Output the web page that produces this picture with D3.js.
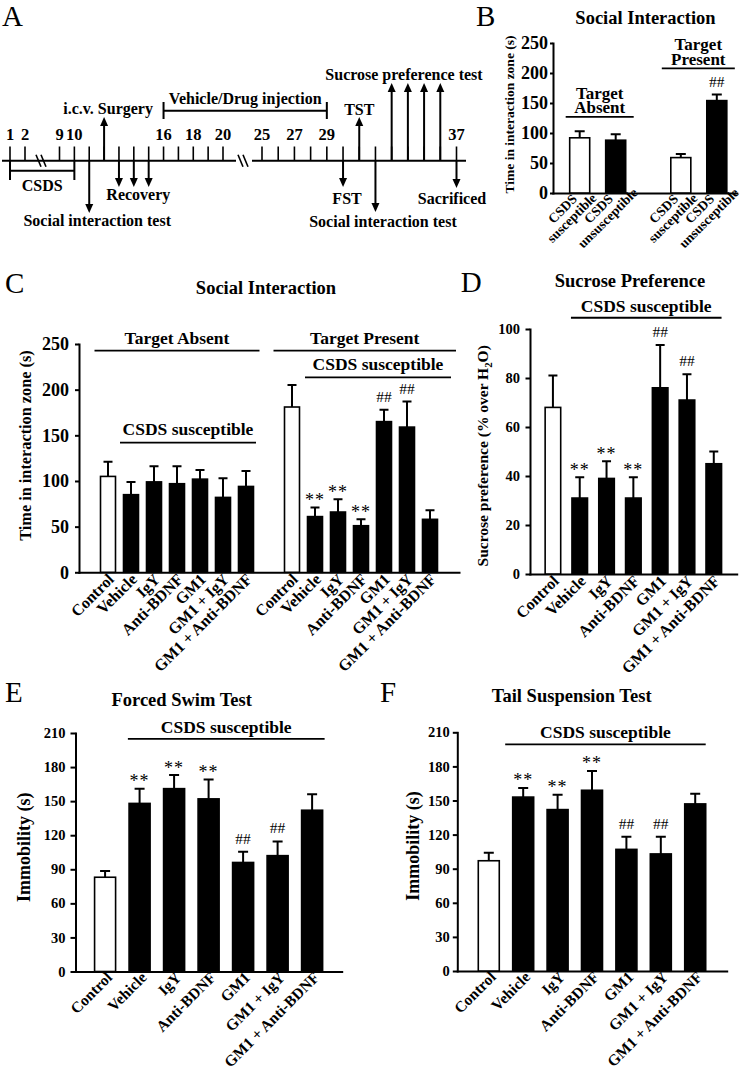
<!DOCTYPE html>
<html><head><meta charset="utf-8">
<script src="https://cdn.jsdelivr.net/npm/d3@7"></script>
<style>body{margin:0;background:#fff}svg{display:block}</style>
</head><body>
<svg id="fig" width="750" height="1069"></svg>
<script>
// ================= DATA =================
// Panel A: experimental timeline
const timelineDays = [1,2,9,10,11,12,13,14,15,16,17,18,19,20,25,26,27,28,29,30,31,32,33,34,35,36,37];
const timelineDayLabels = [1,2,9,10,16,18,20,25,27,29,37];
const upEvents = [
  {days:[12], label:"i.c.v. Surgery"},
  {days:[31], label:"TST"},
  {days:[33,34,35,36], label:"Sucrose preference test"}
];
const downEvents = [
  {days:[11], label:"Social interaction test"},
  {days:[13,14,15], label:"Recovery"},
  {days:[30], label:"FST"},
  {days:[32], label:"Social interaction test"},
  {days:[37], label:"Sacrificed"}
];
const injectionPeriod = {from:16, to:29, label:"Vehicle/Drug injection"};
const csdsPeriod = {from:1, to:10, label:"CSDS"};

// Panel B
const bGroups = ["Target Absent", "Target Present"];
const bStrains = ["CSDS susceptible", "CSDS unsusceptible"];
const bMeans = [[92, 88], [59, 154]];
const bErrors = [[11, 10], [6, 10]];
const bMarks = [["", ""], ["", "##"]];
const bTicks = [0, 50, 100, 150, 200, 250];

// Treatments (C-F)
const treatments = ["Control", "Vehicle", "IgY", "Anti-BDNF", "GM1", "GM1 + IgY", "GM1 + Anti-BDNF"];

// Panel C
const cAbsentMeans = [105, 85, 99, 97, 102, 82, 94];
const cAbsentErrors = [16, 14, 17, 19, 10, 21, 17];
const cPresentMeans = [181, 61, 66, 51, 165, 159, 58];
const cPresentErrors = [24, 10, 14, 7, 13, 28, 10];
const cPresentMarks = ["", "**", "**", "**", "##", "##", ""];
const cTicks = [0, 50, 100, 150, 200, 250];

// Panel D
const dMeans = [68, 31, 39, 31, 76, 71, 45];
const dErrors = [13, 8.5, 7, 8.5, 17.5, 10.5, 5];
const dMarks = ["", "**", "**", "**", "##", "##", ""];
const dTicks = [0, 20, 40, 60, 80, 100];

// Panel E
const eMeans = [83, 148, 161, 152, 96, 102, 142];
const eErrors = [5.5, 13, 12, 17, 9.5, 12.5, 14];
const eMarks = ["", "**", "**", "**", "##", "##", ""];
const eTicks = [0, 30, 60, 90, 120, 150, 180, 210];

// Panel F
const fMeans = [97, 153, 142, 159, 107, 103, 147];
const fErrors = [7, 8, 13, 17, 11, 15, 9];
const fMarks = ["", "**", "**", "**", "##", "##", ""];
const fTicks = [0, 30, 60, 90, 120, 150, 180, 210];

// ================= DRAWING =================
const serif = '"Liberation Serif","Times New Roman",Times,serif';
const svg = d3.select("#fig");

function addText(g, x, y, str, size, weight, anchor) {
  return g.append("text").attr("x", x).attr("y", y)
    .attr("font-family", serif).attr("font-size", size)
    .attr("font-weight", weight || "bold")
    .attr("text-anchor", anchor || "middle").attr("fill", "#000").text(str);
}

// ---------- Panel A ----------
(function () {
  const g = svg.append("g");
  const L = {lineY:160.7, tickTop:146.5, dayLabelY:140,
    scaleDays:[1,2,9,20,25,37], scaleX:[10,25,59.5,223,262,456.5],
    segments:[[2,236],[252,466]], breaks:[39,44,241,246]};
  const tx = d3.scaleLinear().domain(L.scaleDays).range(L.scaleX);
  const st = (s) => s.attr("stroke", "#000").attr("stroke-width", 2).attr("fill", "none");

  addText(g, 2, 25.5, "A", 29, "normal", "start");

  L.segments.forEach(s => st(g.append("line").attr("x1", s[0]).attr("x2", s[1]).attr("y1", L.lineY).attr("y2", L.lineY)));
  L.breaks.forEach(bx => {
    g.append("line").attr("x1", bx - 3).attr("x2", bx + 2).attr("y1", L.lineY - 6).attr("y2", L.lineY + 6).attr("stroke", "#000").attr("stroke-width", 1.6);
  });
  g.selectAll("line.tk").data(timelineDays).join("line")
    .attr("x1", d => tx(d)).attr("x2", d => tx(d)).attr("y1", L.tickTop).attr("y2", L.lineY)
    .attr("stroke", "#000").attr("stroke-width", 1.6);
  g.selectAll("text.day").data(timelineDayLabels).join("text")
    .attr("x", d => tx(d)).attr("y", L.dayLabelY).attr("text-anchor", "middle")
    .attr("font-family", serif).attr("font-size", 16.5).attr("font-weight", "bold").text(d => d);

  function arrow(x, y1, tip) {
    const dir = Math.sign(tip - y1), hl = 9, hw = 4;
    g.append("line").attr("x1", x).attr("x2", x).attr("y1", y1).attr("y2", tip - dir * (hl - 1))
      .attr("stroke", "#000").attr("stroke-width", 2);
    g.append("path").attr("d", `M${x},${tip}L${x - hw},${tip - dir * hl}L${x + hw},${tip - dir * hl}Z`).attr("fill", "#000");
  }
  const upLayout = [{tip:117, dx:4, ly:114}, {tip:117, dx:0, ly:114.5}, {tip:83, dx:-12, ly:80}];
  const downLayout = [{tip:213, dx:8, ly:225.5}, {tip:187, dx:4.5, ly:200}, {tip:187, dx:4, ly:204}, {tip:212, dx:7.5, ly:227}, {tip:188, dx:-4.5, ly:204}];
  upEvents.forEach((e, i) => {
    e.days.forEach(d => arrow(tx(d), L.lineY, upLayout[i].tip));
    addText(g, d3.mean(e.days, tx) + upLayout[i].dx, upLayout[i].ly, e.label, 16);
  });
  downEvents.forEach((e, i) => {
    e.days.forEach(d => arrow(tx(d), L.lineY, downLayout[i].tip));
    addText(g, d3.mean(e.days, tx) + downLayout[i].dx, downLayout[i].ly, e.label, 16);
  });
  const ix0 = tx(injectionPeriod.from), ix1 = tx(injectionPeriod.to);
  st(g.append("path").attr("d", `M${ix0},110.7H${ix1}M${ix0},102V119M${ix1},102V119`));
  addText(g, (ix0 + ix1) / 2, 104, injectionPeriod.label, 16);
  const cx0 = tx(csdsPeriod.from), cx1 = tx(csdsPeriod.to);
  st(g.append("path").attr("d", `M${cx0},170.7H${cx1}M${cx0},${L.lineY}V180M${cx1},${L.lineY}V180`));
  addText(g, (cx0 + cx1) / 2, 190.6, csdsPeriod.label, 16);
})();

// ---------- generic bar panel ----------
function drawBarPanel(p) {
  const g = svg.append("g");
  const y = d3.scaleLinear().domain([0, p.yMax]).range(p.yRange);
  const bw = p.bw;
  const cxOf = d => p.xLeft(d.key) + bw / 2;

  addText(g, p.letter.x, p.letter.y, p.letter.t, 29, "normal", "start");
  addText(g, p.title.x, p.title.y, p.title.t, 18.5);

  const ya = g.append("g").attr("transform", `translate(${p.axisX[0]},0)`)
    .call(d3.axisLeft(y).tickValues(p.ticks).tickSize(p.tickSize).tickSizeOuter(0).tickPadding(p.tickPad));
  ya.select(".domain").attr("stroke-width", 2).attr("stroke-linecap", "square");
  ya.selectAll(".tick line").attr("stroke-width", 2);
  ya.selectAll(".tick text").attr("font-family", serif).attr("font-size", p.tickFont).attr("font-weight", "bold");
  const xa = g.append("g").attr("transform", `translate(0,${y(0)})`)
    .call(d3.axisBottom(d3.scaleLinear().range(p.axisX)).tickValues([]).tickSizeOuter(0));
  xa.select(".domain").attr("stroke-width", 2).attr("stroke-linecap", "square");

  g.selectAll("rect.bar").data(p.items).join("rect")
    .attr("x", d => p.xLeft(d.key)).attr("y", d => y(d.mean))
    .attr("width", bw).attr("height", d => y(0) - y(d.mean))
    .attr("fill", d => d.fill).attr("stroke", "#000").attr("stroke-width", 1.6);
  g.selectAll("path.err").data(p.items).join("path")
    .attr("d", d => { const c = cxOf(d), t = y(d.mean + d.err); return `M${c},${y(d.mean)}V${t}M${c - p.cap},${t}H${c + p.cap}`; })
    .attr("stroke", "#000").attr("stroke-width", 2).attr("fill", "none");
  g.selectAll("text.mark").data(p.items.filter(d => d.mark)).join("text")
    .attr("x", d => cxOf(d)).attr("y", d => y(d.mean + d.err) - (d.mark === "**" ? 1.5 : 8))
    .attr("text-anchor", "middle").attr("font-family", serif)
    .attr("font-size", d => d.mark === "**" ? 18 : 15.5)
    .attr("letter-spacing", d => d.mark === "**" ? 1 : 0)
    .text(d => d.mark);

  const xl = g.selectAll("text.xl").data(p.items).join("text")
    .attr("transform", d => `translate(${cxOf(d) + p.labDx},${y(0) + p.labDy}) rotate(-45)`)
    .attr("font-family", serif).attr("font-size", p.labFont).attr("font-weight", "bold");
  if (p.twoLine) {
    xl.attr("text-anchor", "middle");
    xl.each(function (d) {
      const parts = d.label.split(" ");
      const t = d3.select(this);
      t.append("tspan").attr("x", 0).attr("y", 0).text(parts[0]);
      t.append("tspan").attr("x", 0).attr("y", p.lineH).text(parts.slice(1).join(" "));
    });
  } else {
    xl.attr("text-anchor", "end").text(d => d.label);
  }

  p.brackets.forEach(b => {
    const x0 = p.xLeft(b.from) - b.padL, x1 = p.xLeft(b.to) + bw + b.padR, ly = y(b.value);
    g.append("line").attr("x1", x0).attr("x2", x1).attr("y1", ly).attr("y2", ly).attr("stroke", "#000").attr("stroke-width", 1.8);
    const n = b.lines.length;
    b.lines.forEach((s, i) => addText(g, (x0 + x1) / 2, ly - b.gap - (n - 1 - i) * 14.5, s, b.size || 17.5));
  });

  const yl = g.append("text").attr("transform", `translate(${p.yLabel.x},${p.yLabel.y}) rotate(-90)`)
    .attr("text-anchor", "middle").attr("font-family", serif).attr("font-size", p.yLabel.size).attr("font-weight", "bold");
  p.yLabel.parts.forEach(pt => {
    const ts = yl.append("tspan").text(pt.t);
    if (pt.sub) ts.attr("font-size", p.yLabel.size * 0.7).attr("dy", 4);
    if (pt.after) ts.attr("dy", -4);
  });
}

// ---------- Panel B ----------
(function () {
  const xg = d3.scaleBand().domain(bGroups).range([561.7, 734.8]).paddingInner(0.288).paddingOuter(0);
  const xs = d3.scaleBand().domain(bStrains).range([0, xg.bandwidth()]).paddingInner(0.444).paddingOuter(0.222);
  const items = [];
  bGroups.forEach((gName, gi) => bStrains.forEach((s, si) => items.push({
    key: gName + "|" + s, label: s, mean: bMeans[gi][si], err: bErrors[gi][si],
    mark: bMarks[gi][si], fill: s === "CSDS susceptible" ? "#fff" : "#000"
  })));
  drawBarPanel({
    items, xLeft: k => { const [gN, s] = k.split("|"); return xg(gN) + xs(s); }, bw: xs.bandwidth(),
    yMax: 250, yRange: [193, 43], axisX: [553, 736.7], ticks: bTicks, tickSize: 3, tickPad: 2, tickFont: 18,
    cap: 5, labDx: -14, labDy: 19, labFont: 13.5, twoLine: true, lineH: 13,
    letter: {x: 476, y: 25.5, t: "B"}, title: {x: 645.5, y: 23.9, t: "Social Interaction"},
    brackets: [
      {lines: ["Target", "Absent"], from: "Target Absent|CSDS susceptible", to: "Target Absent|CSDS unsusceptible", padL: 4, padR: 8, value: 127, gap: 3.4, size: 17},
      {lines: ["Target", "Present"], from: "Target Present|CSDS susceptible", to: "Target Present|CSDS unsusceptible", padL: 9, padR: 8, value: 207.8, gap: 3.4, size: 17}
    ],
    yLabel: {x: 514, y: 114.5, size: 13.5, parts: [{t: "Time in interaction zone (s)"}]}
  });
})();

// ---------- Panel C ----------
(function () {
  const domain = [...treatments.map(t => "absent|" + t), "gap", ...treatments.map(t => "present|" + t)];
  const x = d3.scaleBand().domain(domain).range([79, 459]).paddingInner(0.348).paddingOuter(0.935);
  const items = [
    ...treatments.map((t, i) => ({key: "absent|" + t, label: t, mean: cAbsentMeans[i], err: cAbsentErrors[i], mark: "", fill: t === "Control" ? "#fff" : "#000"})),
    ...treatments.map((t, i) => ({key: "present|" + t, label: t, mean: cPresentMeans[i], err: cPresentErrors[i], mark: cPresentMarks[i], fill: t === "Control" ? "#fff" : "#000"}))
  ];
  drawBarPanel({
    items, xLeft: k => x(k), bw: x.bandwidth(),
    yMax: 250, yRange: [572.3, 344], axisX: [79, 459], ticks: cTicks, tickSize: 4, tickPad: 6, tickFont: 18,
    cap: 4.5, labDx: 7, labDy: 8, labFont: 16,
    letter: {x: 5, y: 293, t: "C"}, title: {x: 266, y: 294, t: "Social Interaction"},
    brackets: [
      {lines: ["Target Absent"], from: "absent|Control", to: "absent|GM1 + Anti-BDNF", padL: 6, padR: 6, value: 242.7, gap: 6.4},
      {lines: ["Target Present"], from: "present|Control", to: "present|GM1 + Anti-BDNF", padL: 11, padR: 18.5, value: 242.7, gap: 6.4},
      {lines: ["CSDS susceptible"], from: "absent|Vehicle", to: "absent|GM1 + Anti-BDNF", padL: 3.5, padR: 2.5, value: 141.9, gap: 8},
      {lines: ["CSDS susceptible"], from: "present|Vehicle", to: "present|GM1 + Anti-BDNF", padL: 2.5, padR: 13.5, value: 213.5, gap: 7}
    ],
    yLabel: {x: 30.5, y: 445.5, size: 16.3, parts: [{t: "Time in interaction zone (s)"}]}
  });
})();

// ---------- Panels D, E, F ----------
function simplePanel(means, errs, marks, opt) {
  const x = d3.scaleBand().domain(treatments).range(opt.axisX).paddingInner(opt.pIn).paddingOuter(opt.pOut);
  const items = treatments.map((t, i) => ({key: t, label: t, mean: means[i], err: errs[i], mark: marks[i], fill: t === "Control" ? "#fff" : "#000"}));
  drawBarPanel(Object.assign({items, xLeft: k => x(k), bw: x.bandwidth()}, opt));
}

simplePanel(dMeans, dErrors, dMarks, {
  axisX: [530, 736.7], pIn: 0.42, pOut: 0.565, yMax: 100, yRange: [574, 329], ticks: dTicks,
  tickSize: 4.5, tickPad: 5.5, tickFont: 14.5, cap: 4.5, labDx: 7, labDy: 8, labFont: 16,
  letter: {x: 460.7, y: 292, t: "D"}, title: {x: 630, y: 287, t: "Sucrose Preference"},
  brackets: [{lines: ["CSDS susceptible"], from: "Vehicle", to: "GM1 + Anti-BDNF", padL: 1, padR: 0, value: 104.6, gap: 6}],
  yLabel: {x: 488, y: 455.8, size: 15.5, parts: [{t: "Sucrose preference (% over H"}, {t: "2", sub: true}, {t: "O)", after: true}]}
});

simplePanel(eMeans, eErrors, eMarks, {
  axisX: [75.5, 341.7], pIn: 0.391, pOut: 0.553, yMax: 210, yRange: [971.5, 733], ticks: eTicks,
  tickSize: 5, tickPad: 5, tickFont: 14.5, cap: 5, labDx: 8, labDy: 7, labFont: 15.5,
  letter: {x: 5, y: 701.7, t: "E"}, title: {x: 181.7, y: 705.5, t: "Forced Swim Test"},
  brackets: [{lines: ["CSDS susceptible"], from: "Vehicle", to: "GM1 + Anti-BDNF", padL: 1.2, padR: 2, value: 204.9, gap: 5.5}],
  yLabel: {x: 29.5, y: 847.3, size: 18, parts: [{t: "Immobility (s)"}]}
});

simplePanel(fMeans, fErrors, fMarks, {
  axisX: [457.3, 726.7], pIn: 0.39, pOut: 0.61, yMax: 210, yRange: [971, 732.3], ticks: fTicks,
  tickSize: 4.5, tickPad: 3, tickFont: 14.5, cap: 5, labDx: 8, labDy: 7, labFont: 15.5,
  letter: {x: 380, y: 701.7, t: "F"}, title: {x: 571.7, y: 701.5, t: "Tail Suspension Test"},
  brackets: [{lines: ["CSDS susceptible"], from: "Vehicle", to: "GM1 + Anti-BDNF", padL: 7.5, padR: 0, value: 199.4, gap: 6}],
  yLabel: {x: 418.5, y: 846, size: 18, parts: [{t: "Immobility (s)"}]}
});
</script>
</body></html>
